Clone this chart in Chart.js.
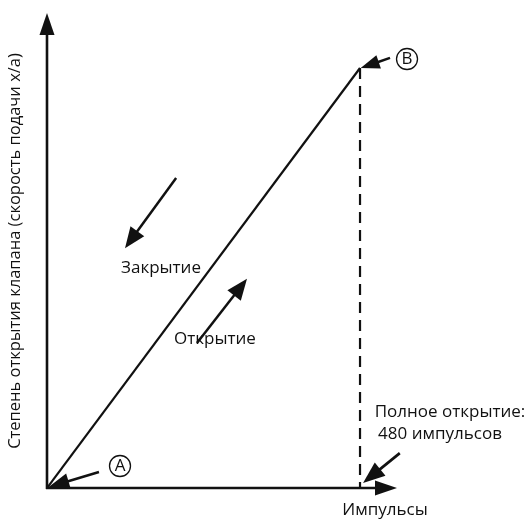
<!DOCTYPE html>
<html>
<head>
<meta charset="utf-8">
<script src="https://cdn.jsdelivr.net/npm/chart.js@4"></script>
<style>
  html, body { margin: 0; padding: 0; background: #ffffff; }
  #wrap { width: 529px; height: 521px; }
</style>
</head>
<body>
<div id="wrap"><canvas id="chart" width="529" height="521"></canvas></div>
<script>
// Valve opening versus pulse count
const pulses = [0, 480];
const openingPct = [0, 100];
const fullOpenPulses = [480, 480];
const fullOpenPct = [100, 0];

const xLabel = 'Импульсы';
const yLabel = 'Степень открытия клапана (скорость подачи х/а)';
const openLabel = 'Открытие';
const closeLabel = 'Закрытие';
const fullOpenLines = ['Полное открытие:', '480 импульсов'];
const pointA = 'A';
const pointB = 'B';

const FONT = '"Open Sans", "Noto Sans", sans-serif';
const INK = '#111111';

function arrowHead(ctx, x0, y0, x1, y1, len, half) {
  const a = Math.atan2(y1 - y0, x1 - x0);
  ctx.beginPath();
  ctx.moveTo(x1, y1);
  ctx.lineTo(x1 - len * Math.cos(a) + half * Math.sin(a), y1 - len * Math.sin(a) - half * Math.cos(a));
  ctx.lineTo(x1 - len * Math.cos(a) - half * Math.sin(a), y1 - len * Math.sin(a) + half * Math.cos(a));
  ctx.closePath();
  ctx.fill();
}

function arrow(ctx, x0, y0, x1, y1, width, len, half) {
  const a = Math.atan2(y1 - y0, x1 - x0);
  ctx.lineWidth = width;
  ctx.beginPath();
  ctx.moveTo(x0, y0);
  ctx.lineTo(x1 - (len - 2) * Math.cos(a), y1 - (len - 2) * Math.sin(a));
  ctx.stroke();
  arrowHead(ctx, x0, y0, x1, y1, len, half);
}

const diagramPlugin = {
  id: 'diagram',
  afterDatasetsDraw(chart) {
    const { ctx, scales: { x, y }, chartArea } = chart;
    const px = v => x.getPixelForValue(v);
    const py = v => y.getPixelForValue(v);
    ctx.save();
    ctx.strokeStyle = INK;
    ctx.fillStyle = INK;
    ctx.lineCap = 'butt';

    // axes with arrowheads
    const ox = px(0), oy = py(0);
    arrow(ctx, ox, oy + 1, ox, chartArea.top, 2.6, 22, 7.5);
    arrow(ctx, ox - 1, oy, chartArea.right, oy, 2.4, 22, 7.5);

    // direction arrows
    arrow(ctx, px(198), py(73.8), px(119.6), py(57.1), 2.5, 21, 8.5);
    arrow(ctx, px(230), py(34.5), px(306.7), py(49.8), 2.5, 21, 8.5);

    // pointer arrows to A, B and the full-open mark
    arrow(ctx, px(79.7), py(3.8), px(2), py(0.2), 2.5, 21, 8);
    arrow(ctx, px(526), py(102.4), px(481), py(100), 2.5, 19, 7);
    arrow(ctx, px(541), py(8.3), px(484.6), py(1.2), 2.7, 22, 8.5);

    // circled point labels
    ctx.lineWidth = 1.3;
    const circled = (cx, cy, t) => {
      ctx.beginPath();
      ctx.arc(cx, cy, 10.5, 0, Math.PI * 2);
      ctx.stroke();
      ctx.font = '17px ' + FONT;
      ctx.textAlign = 'center';
      ctx.textBaseline = 'middle';
      ctx.fillText(t, cx, cy + 0.5);
    };
    circled(px(0) + 73, py(0) - 22, pointA);
    circled(px(480) + 47, py(100) - 9, pointB);

    // text labels
    ctx.font = '17px ' + FONT;
    ctx.textAlign = 'center';
    ctx.textBaseline = 'middle';
    ctx.fillText(closeLabel, 161, 268);
    ctx.fillText(openLabel, 215, 339);
    ctx.fillText(xLabel, 385, 510);
    ctx.fillText(fullOpenLines[0], 450, 412);
    ctx.fillText(fullOpenLines[1], 440, 434);

    ctx.save();
    ctx.font = '16.5px ' + FONT;
    ctx.translate(15, 251);
    ctx.rotate(-Math.PI / 2);
    ctx.fillText(yLabel, 0, 0);
    ctx.restore();

    ctx.restore();
  }
};

new Chart(document.getElementById('chart'), {
  type: 'scatter',
  data: {
    datasets: [
      {
        data: pulses.map((p, i) => ({ x: p, y: openingPct[i] })),
        showLine: true,
        borderColor: INK,
        borderWidth: 2.2,
        pointRadius: 0
      },
      {
        data: fullOpenPulses.map((p, i) => ({ x: p, y: fullOpenPct[i] })),
        showLine: true,
        borderColor: INK,
        borderWidth: 2.2,
        borderDash: [11, 7],
        pointRadius: 0
      }
    ]
  },
  options: {
    responsive: false,
    animation: false,
    layout: { padding: { left: 47, right: 132, top: 13, bottom: 33 } },
    plugins: { legend: { display: false }, tooltip: { enabled: false } },
    scales: {
      x: { type: 'linear', min: 0, max: 536.7, display: false },
      y: { type: 'linear', min: 0, max: 113.1, display: false }
    }
  },
  plugins: [diagramPlugin]
});
</script>
</body>
</html>
